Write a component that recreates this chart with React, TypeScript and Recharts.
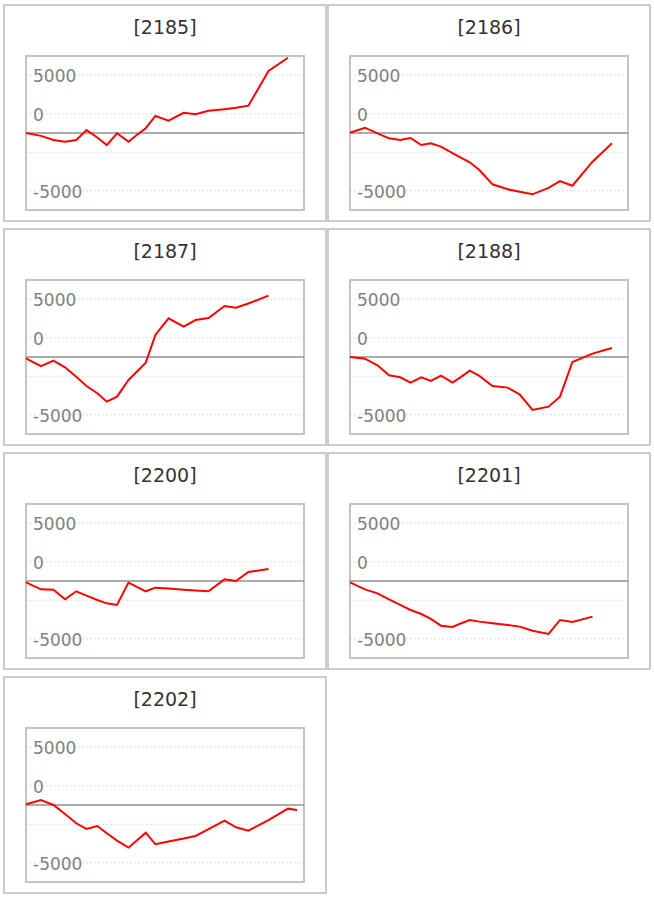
import React from "react";
import { LineChart, Line, XAxis, YAxis, CartesianGrid, ReferenceLine, ReferenceArea } from "recharts";

// shared time positions (day-like units along the x axis)
const times = [0, 1.4, 2.57, 3.65, 4.7, 5.66, 6.67, 7.56, 8.51, 9.59, 10.36, 11.2, 12.1, 13.33, 14.75, 15.86, 17.07, 18.57, 19.64, 20.8, 22.68, 24.5, 25.35];

const codes = ["2185", "2186", "2187", "2188", "2200", "2201", "2202"];

const s2185 = [0, -300, -720, -900, -730, 300, -470, -1250, -30, -900, -200, 500, 1770, 1280, 2100, 1940, 2320, 2480, 2620, 2840, 6440, 7820];
const s2186 = [30, 550, -30, -550, -730, -520, -1250, -1070, -1420, -2100, -2560, -3040, -3840, -5330, -5850, -6100, -6370, -5700, -5000, -5480, -2980, -1070];
const s2187 = [-140, -940, -380, -1070, -2050, -3010, -3770, -4640, -4120, -2390, -1530, -590, 2290, 4020, 3150, 3840, 4050, 5300, 5120, 5560, 6370];
const s2188 = [0, -170, -865, -1900, -2110, -2660, -2110, -2490, -1940, -2660, -2090, -1420, -1970, -3010, -3180, -3880, -5500, -5160, -4120, -520, 350, 930];
const s2200 = [-140, -870, -900, -1900, -1070, -1520, -1970, -2320, -2490, -170, -620, -1070, -690, -790, -900, -980, -1070, 170, 0, 930, 1250];
const s2201 = [-140, -870, -1280, -1900, -2490, -3010, -3430, -3940, -4640, -4770, -4410, -4050, -4220, -4390, -4570, -4740, -5160, -5500, -4050, -4260, -3700];
const s2202 = [70, 520, 0, -930, -1900, -2490, -2180, -2940, -3700, -4430, -3680, -2870, -4080, -3800, -3480, -3220, -2500, -1630, -2320, -2660, -1560, -380, -520];

const seriesList = [s2185, s2186, s2187, s2188, s2200, s2201, s2202];

const gridTicks = [-6000, -4000, -2000, 0, 2000, 4000, 6000];
const labelTicks = [6000, 2000, -6000];
const labelTexts = ["5000", "0", "-5000"];

const FONT = "'DejaVu Sans', Verdana, sans-serif";

function tickLabel(text: string) {
  return (props: any) => {
    const vb = props.viewBox || {};
    return (
      <text
        x={(vb.x || 0) + 7}
        y={(vb.y || 0) + 1}
        dominantBaseline="central"
        textAnchor="start"
        fill="#808080"
        style={{ fontSize: "17px", fontFamily: FONT }}
      >
        {text}
      </text>
    );
  };
}

function Panel({ code, values }: { code: string; values: number[] }) {
  const data = values.map((v, i) => ({ t: times[i], v }));
  return (
    <div style={{ position: "relative", width: 320, height: 214, border: "2px solid #cccccc", background: "#fff" }}>
      <div
        style={{
          position: "absolute",
          top: 9,
          left: 0,
          width: "100%",
          textAlign: "center",
          fontFamily: FONT,
          fontSize: 19,
          lineHeight: "24px",
          color: "#333",
        }}
      >
        [{code}]
      </div>
      <div style={{ position: "absolute", left: 0, top: 0 }}>
        <LineChart width={320} height={214} data={data} margin={{ top: 50, right: 21, bottom: 10, left: 21 }}>
          <XAxis type="number" dataKey="t" domain={[0, 26]} hide />
          <YAxis type="number" domain={[-8000, 8000]} ticks={gridTicks} hide />
          <CartesianGrid vertical={false} stroke="#dddddd" strokeDasharray="2 2" />
          <ReferenceArea x1={0} x2={26} y1={-8000} y2={8000} fill="none" stroke="#c4c4c4" strokeWidth={2} ifOverflow="visible" />
          <ReferenceLine y={0} stroke="#909090" strokeWidth={1.5} />
          {labelTicks.map((v, i) => (
            <ReferenceLine key={v} y={v} stroke="none" label={tickLabel(labelTexts[i])} />
          ))}
          <Line type="linear" dataKey="v" stroke="#ff0000" strokeWidth={2} dot={false} isAnimationActive={false} />
        </LineChart>
      </div>
    </div>
  );
}

export default function App() {
  return (
    <div
      style={{
        position: "absolute",
        left: 3,
        top: 4,
        display: "grid",
        gridTemplateColumns: "324px 324px",
        columnGap: 0,
        rowGap: 6,
      }}
    >
      {codes.map((c, i) => (
        <Panel key={c} code={c} values={seriesList[i]} />
      ))}
    </div>
  );
}
